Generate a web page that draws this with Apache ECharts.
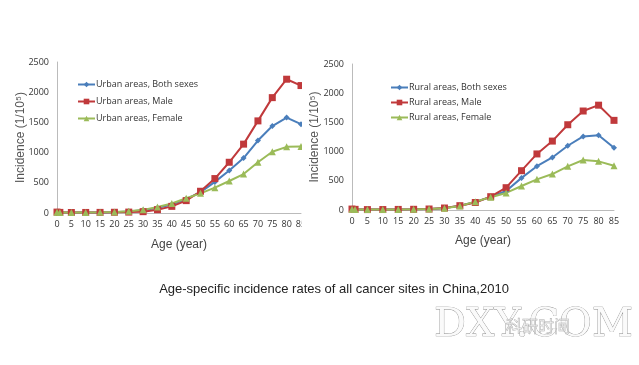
<!DOCTYPE html>
<html><head><meta charset="utf-8">
<script src="https://cdn.jsdelivr.net/npm/echarts@6/dist/echarts.min.js"></script>
<style>html,body{margin:0;padding:0;background:#fff}#c{width:639px;height:365px}</style>
</head><body><div id="c"></div>
<script>
const ages = [0,1,5,10,15,20,25,30,35,40,45,50,55,60,65,70,75,80,85];
const urbanBoth   = [15,10,8,8,10,14,25,45,85,140,230,345,515,705,910,1200,1440,1580,1470];
const urbanMale   = [15,10,8,9,10,12,15,22,55,110,205,360,570,840,1140,1525,1910,2215,2110];
const urbanFemale = [14,10,8,9,11,17,30,52,100,157,245,325,420,530,645,840,1015,1095,1100];
const ruralBoth   = [15,10,7,8,10,12,18,32,74,137,225,325,550,750,900,1100,1260,1280,1065];
const ruralMale   = [16,11,7,8,10,12,17,34,74,128,228,382,673,960,1180,1460,1695,1795,1535];
const ruralFemale = [14,10,7,8,10,13,19,30,70,143,217,292,411,525,616,748,856,833,759];
const yTicks = [0,500,1000,1500,2000,2500];
const titleText = 'Age-specific incidence rates of all cancer sites in China,2010';

const BLUE='#4a7ebb', RED='#c0393b', GREEN='#9bbb59';
const font = 'Liberation Sans, Arial, sans-serif';
const zip = a => ages.map((x,i)=>[x,a[i]]);

function xAx(idx){return {gridIndex:idx,type:'value',min:0,max:85,interval:5,
  name:'Age (year)',nameLocation:'middle',nameGap:idx===0?26:25,
  nameTextStyle:{fontFamily:font,fontSize:12,color:'#444'},
  axisLine:{lineStyle:{color:'#bbb'}},axisTick:{show:false},splitLine:{show:false},
  axisLabel:{fontFamily:'Open Sans, sans-serif',fontSize:9,color:'#333',margin:7}};}
function yAx(idx){return {gridIndex:idx,type:'value',min:yTicks[0],max:yTicks[yTicks.length-1],interval:500,
  name:'Incidence (1/10⁵)',nameLocation:'middle',nameGap:idx===0?30:31,nameMoveOverlap:false,
  nameTextStyle:{fontFamily:font,fontSize:12,color:'#555'},
  axisLine:{show:true,lineStyle:{color:'#bbb'}},axisTick:{show:false},splitLine:{show:false},
  axisLabel:{fontFamily:'Open Sans, sans-serif',fontSize:9,color:'#333',margin:8,formatter:v=>String(v)}};}
function ser(name,data,idx,color,sym,size){return {name,type:'line',xAxisIndex:idx,yAxisIndex:idx,
  data:zip(data),symbol:sym,symbolSize:size,showSymbol:true,lineStyle:{color,width:2},
  itemStyle:{color},emphasis:{disabled:true},animation:false,clip:false};}

const chart = echarts.init(document.getElementById('c'),null,{renderer:'canvas'});
chart.setOption({
  animation:false,
  grid:[{left:57,top:62,width:244,height:151},{left:352,top:64,width:262,height:146}],
  xAxis:[xAx(0),xAx(1)],
  yAxis:[yAx(0),yAx(1)],
  legend:[
    {left:72,top:75,orient:'vertical',itemWidth:17,itemHeight:7,itemGap:8,
     textStyle:{fontFamily:'Open Sans, sans-serif',fontSize:9,color:'#333',padding:[0,0,0,-4]},
     data:['Urban areas, Both sexes','Urban areas, Male','Urban areas, Female']},
    {left:385,top:78,orient:'vertical',itemWidth:17,itemHeight:7,itemGap:6,
     textStyle:{fontFamily:'Open Sans, sans-serif',fontSize:9,color:'#333',padding:[0,0,0,-4]},
     data:['Rural areas, Both sexes','Rural areas, Male','Rural areas, Female']}
  ],
  series:[
    ser('Urban areas, Both sexes',urbanBoth,0,BLUE,'diamond',6),
    ser('Urban areas, Male',urbanMale,0,RED,'rect',7),
    ser('Urban areas, Female',urbanFemale,0,GREEN,'triangle',7),
    ser('Rural areas, Both sexes',ruralBoth,1,BLUE,'diamond',6),
    ser('Rural areas, Male',ruralMale,1,RED,'rect',7),
    ser('Rural areas, Female',ruralFemale,1,GREEN,'triangle',7)
  ],
  graphic:[
    {type:'rect',shape:{x:302,y:40,width:6,height:190},style:{fill:'#fff'},z:100},
    {type:'text',x:334,y:283,z:100,style:{text:titleText,fontFamily:font,fontSize:13,fill:'#222',textAlign:'center'}},
    {type:'text',x:434,y:306,z:100,style:{text:'DXY.COM',fontFamily:'DejaVu Serif, serif',fontSize:40,fill:'#fafafa',stroke:'#8a8a8a',lineWidth:0.7}},
    {type:'text',x:506,y:318,z:101,style:{text:'科研时间',fontFamily:'Noto Sans CJK SC',fontSize:16,fill:'rgba(255,255,255,0.3)',stroke:'#aaa',lineWidth:0.6}}
  ]
});
</script></body></html>
